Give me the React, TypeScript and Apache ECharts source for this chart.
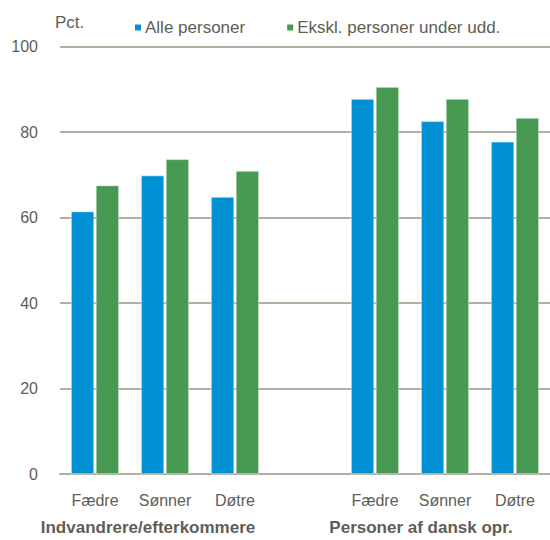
import React, { useEffect, useRef } from "react";
import * as echarts from "echarts";

const categories = ["Fædre", "Sønner", "Døtre", "", "Fædre", "Sønner", "Døtre"];
const allePersoner = [61.4, 69.8, 64.8, "-", 87.7, 82.5, 77.7];
const eksklUdd = [67.5, 73.6, 70.9, "-", 90.5, 87.7, 83.3];
const seriesNames = ["Alle personer", "Ekskl. personer under udd."];
const groupLabels = ["Indvandrere/efterkommere", "Personer af dansk opr."];
const yTicks = { min: 0, max: 100, interval: 20 };

const FONT = "'Liberation Sans', Arial, sans-serif";
const TEXT = "#5e5e56";
const GRID = "#b3b0a1";

export default function App() {
  const ref = useRef<HTMLDivElement>(null);
  useEffect(() => {
    if (!ref.current) return;
    const chart = echarts.init(ref.current, null, { renderer: "svg" });
    chart.setOption({
      animation: false,
      backgroundColor: "#ffffff",
      textStyle: { fontFamily: FONT },
      grid: { left: 60, right: 0, top: 46.5, bottom: 66, containLabel: false },
      legend: {
        left: 128,
        top: 14,
        itemWidth: 8,
        itemHeight: 8,
        itemGap: 40,
        icon: "rect",
        textStyle: { fontFamily: FONT, fontSize: 17, color: TEXT, padding: [0, 0, 0, -2] },
        data: seriesNames,
      },
      xAxis: {
        type: "category",
        data: categories,
        axisLine: { show: true, lineStyle: { color: GRID, width: 2 } },
        axisTick: { show: false },
        axisLabel: { fontFamily: FONT, fontSize: 16, color: TEXT, margin: 18 },
      },
      yAxis: {
        type: "value",
        min: yTicks.min,
        max: yTicks.max,
        interval: yTicks.interval,
        axisLine: { show: false },
        axisTick: { show: false },
        axisLabel: { fontFamily: FONT, fontSize: 16, color: TEXT, margin: 22 },
        splitLine: { lineStyle: { color: GRID, width: 2 } },
      },
      series: [
        {
          name: seriesNames[0],
          type: "bar",
          data: allePersoner,
          barWidth: 23,
          barGap: "8%",
          itemStyle: { color: "#0090d4", borderColor: "#ffffff", borderWidth: 0.5 },
        },
        {
          name: seriesNames[1],
          type: "bar",
          data: eksklUdd,
          barWidth: 23,
          barGap: "8%",
          itemStyle: { color: "#489a52", borderColor: "#ffffff", borderWidth: 0.5 },
        },
      ],
      graphic: [
        {
          type: "text",
          left: 55,
          top: 14,
          style: { text: "Pct.", fontFamily: FONT, fontSize: 17, fill: TEXT },
        },
        {
          type: "text",
          x: 148,
          y: 527,
          style: {
            text: groupLabels[0],
            fontFamily: FONT,
            fontSize: 17,
            fontWeight: "bold",
            fill: TEXT,
            textAlign: "center",
            textVerticalAlign: "middle",
          },
        },
        {
          type: "text",
          x: 421,
          y: 527,
          style: {
            text: groupLabels[1],
            fontFamily: FONT,
            fontSize: 17,
            fontWeight: "bold",
            fill: TEXT,
            textAlign: "center",
            textVerticalAlign: "middle",
          },
        },
      ],
    });
    return () => chart.dispose();
  }, []);
  return <div ref={ref} style={{ width: 550, height: 540, position: "absolute", left: 0, top: 0 }} />;
}
